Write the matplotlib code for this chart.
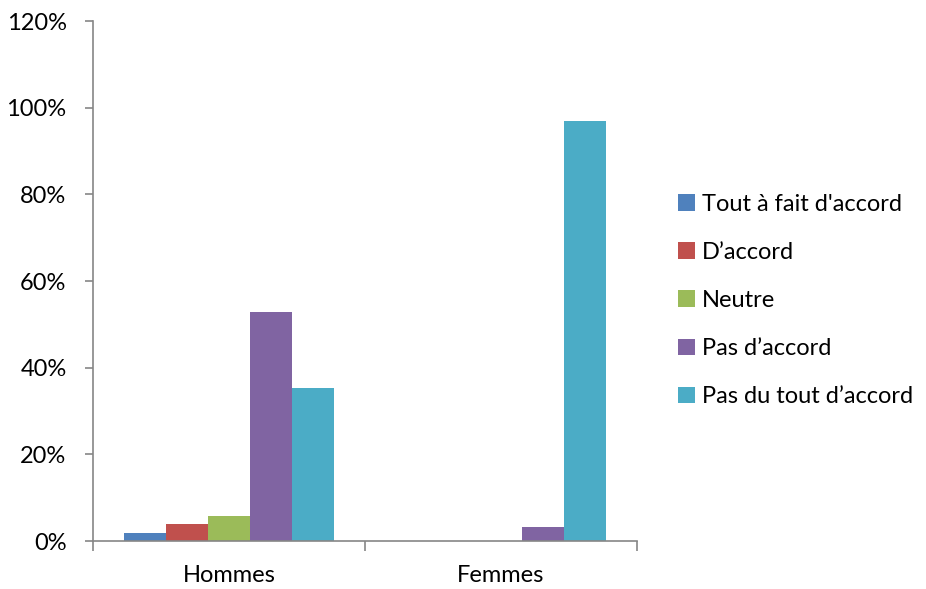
import numpy as np
import matplotlib.pyplot as plt
from matplotlib.ticker import PercentFormatter

plt.rcParams["font.family"] = ["Lato", "DejaVu Sans"]

groups = ["Hommes", "Femmes"]
answers = ["Tout à fait d'accord", "D’accord", "Neutre", "Pas d’accord", "Pas du tout d’accord"]
hommes = [0.0196, 0.0392, 0.0588, 0.5294, 0.3529]
femmes = [0.0, 0.0, 0.0, 0.03125, 0.96875]
colors = ["#4F81BD", "#C0504D", "#9BBB59", "#8064A2", "#4BACC6"]

values = np.array([hommes, femmes])
axis_grey = "#868686"

fig = plt.figure(figsize=(9.26, 5.89), dpi=100)
ax = fig.add_axes([93 / 926, 1 - 541 / 589, 544 / 926, 520 / 589])

x = np.arange(len(groups))
width = 0.1544
for i, (name, c) in enumerate(zip(answers, colors)):
    ax.bar(x + (i - 2) * width, values[:, i], width, color=c, label=name, linewidth=0)

ax.set_xlim(-0.5, 1.5)
ax.set_ylim(0, 1.2)
ax.set_yticks(np.arange(0, 1.21, 0.2))
ax.yaxis.set_major_formatter(PercentFormatter(1.0, decimals=0))
ax.set_xticks([-0.5, 0.5, 1.5], minor=False)
ax.set_xticklabels([])
ax.set_xticks(x, minor=True)
ax.set_xticklabels(groups, minor=True)
ax.tick_params(axis="x", which="minor", length=0, pad=17, labelsize=17)
ax.tick_params(axis="x", which="major", length=7, width=1.2, color=axis_grey, direction="out")
ax.tick_params(axis="y", length=6, width=1.2, color=axis_grey, direction="out", pad=13, labelsize=17)

for s in ["top", "right"]:
    ax.spines[s].set_visible(False)
for s in ["left", "bottom"]:
    ax.spines[s].set_color(axis_grey)
    ax.spines[s].set_linewidth(1.2)

fig.legend(loc="center left", bbox_to_anchor=(678 / 926, 1 - 300.5 / 589), frameon=False,
           fontsize=17, handlelength=0.7, handleheight=0.7, handletextpad=0.3,
           labelspacing=1.15, borderpad=0, borderaxespad=0)

fig.savefig("out.png", dpi=100)
